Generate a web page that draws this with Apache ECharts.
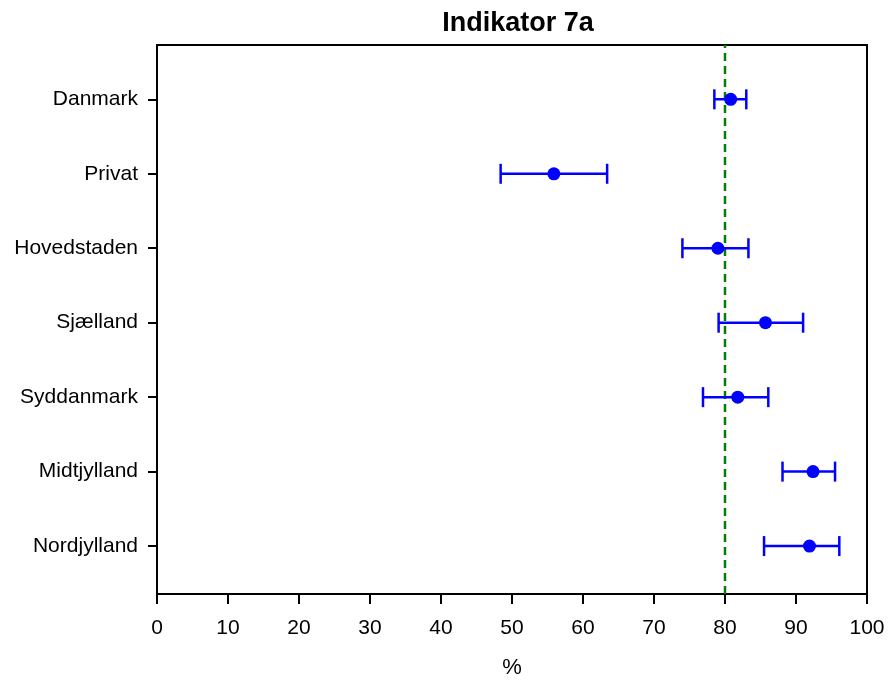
<!DOCTYPE html>
<html>
<head>
<meta charset="utf-8">
<script src="https://cdn.jsdelivr.net/npm/echarts@6/dist/echarts.min.js"></script>
<style>html,body{margin:0;padding:0;background:#fff}#c{width:890px;height:684px}</style>
</head>
<body>
<div id="c"></div>
<script>
const categories = ['Danmark','Privat','Hovedstaden','Sjælland','Syddanmark','Midtjylland','Nordjylland'];
const estimates  = [80.8, 55.9, 79.0, 85.7, 81.8, 92.4, 91.9];
const lowerCI    = [78.5, 48.4, 74.0, 79.1, 76.9, 88.1, 85.5];
const upperCI    = [83.0, 63.4, 83.3, 91.0, 86.1, 95.5, 96.1];
const referenceValue = 80;
const xTicks = [0,10,20,30,40,50,60,70,80,90,100];

const FONT = '"Liberation Sans", Arial, sans-serif';
const chart = echarts.init(document.getElementById('c'), null, {renderer: 'canvas'});

const errData = categories.map((c, i) => [lowerCI[i], upperCI[i], i]);
const ptData = categories.map((c, i) => [estimates[i], i]);

chart.setOption({
  animation: false,
  backgroundColor: '#fff',
  title: {
    text: 'Indikator 7a',
    left: 513, top: 5, textAlign: 'center',
    textStyle: {fontFamily: FONT, fontWeight: 'bold', fontSize: 27, color: '#000'}
  },
  grid: [
    {left: 157, top: 45, width: 710, height: 552, show: true, borderColor: '#000', borderWidth: 2, backgroundColor: 'transparent'},
    {left: 157, top: 62.1, width: 710, height: 521.2}
  ],
  xAxis: [
    {
      gridIndex: 0, type: 'value', min: xTicks[0], max: xTicks[xTicks.length-1], interval: 10,
      name: '%', nameLocation: 'middle', nameGap: 63,
      nameTextStyle: {fontFamily: FONT, fontSize: 22, color: '#000'},
      axisLine: {show: true, lineStyle: {color: '#000', width: 2}},
      axisTick: {show: true, length: 10, lineStyle: {color: '#000', width: 2}},
      axisLabel: {fontFamily: FONT, fontSize: 21, color: '#000', margin: 24},
      splitLine: {show: false}
    },
    {
      gridIndex: 1, type: 'value', min: 0, max: 100, show: false
    }
  ],
  yAxis: [
    {gridIndex: 0, type: 'value', min: 0, max: 1, show: false},
    {
      gridIndex: 1, type: 'category', data: categories, inverse: true, boundaryGap: true,
      axisLine: {show: false},
      axisTick: {show: true, alignWithLabel: true, length: 9, lineStyle: {color: '#000', width: 2}},
      axisLabel: {fontFamily: FONT, fontSize: 21, color: '#000', margin: 19},
      splitLine: {show: false}
    }
  ],
  series: [
    {
      type: 'line', xAxisIndex: 0, yAxisIndex: 0,
      data: [[referenceValue, 0], [referenceValue, 1]],
      symbol: 'none',
      lineStyle: {color: '#008000', width: 2.5, type: [8, 5]},
      z: 1
    },
    {
      type: 'custom', xAxisIndex: 1, yAxisIndex: 1,
      data: errData,
      renderItem: function (params, api) {
        const lo = api.coord([api.value(0), api.value(2)]);
        const hi = api.coord([api.value(1), api.value(2)]);
        const h = 10;
        const style = {stroke: '#0000ff', lineWidth: 2.5, fill: null};
        return {
          type: 'group',
          children: [
            {type: 'line', shape: {x1: lo[0], y1: lo[1], x2: hi[0], y2: hi[1]}, style: style},
            {type: 'line', shape: {x1: lo[0], y1: lo[1]-h, x2: lo[0], y2: lo[1]+h}, style: style},
            {type: 'line', shape: {x1: hi[0], y1: hi[1]-h, x2: hi[0], y2: hi[1]+h}, style: style}
          ]
        };
      },
      z: 2
    },
    {
      type: 'scatter', xAxisIndex: 1, yAxisIndex: 1,
      data: ptData,
      symbol: 'circle', symbolSize: 13,
      itemStyle: {color: '#0000ff', opacity: 1},
      z: 3
    }
  ]
});
</script>
</body>
</html>
